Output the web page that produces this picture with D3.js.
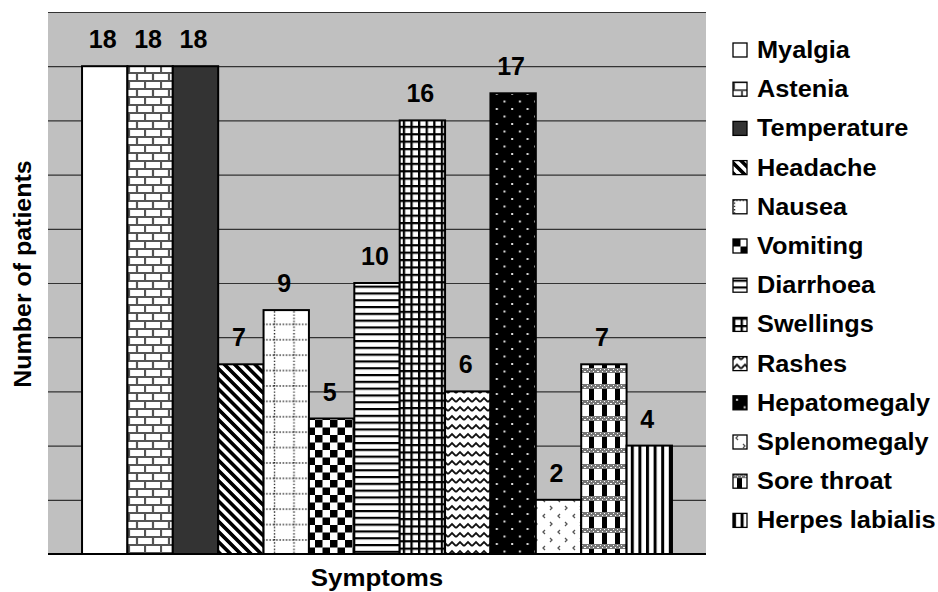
<!DOCTYPE html>
<html>
<head>
<meta charset="utf-8">
<script src="https://cdn.jsdelivr.net/npm/d3@7"></script>
<style>
  html, body { margin: 0; padding: 0; background: #fff; }
  svg { display: block; }
  text { font-family: "Liberation Sans", Arial, sans-serif; font-weight: bold; fill: #000; }
</style>
</head>
<body>
<svg id="chart" width="938" height="592"></svg>
<script>
// ---- data ----
const categories = ["Myalgia", "Astenia", "Temperature", "Headache", "Nausea", "Vomiting",
  "Diarrhoea", "Swellings", "Rashes", "Hepatomegaly", "Splenomegaly", "Sore throat", "Herpes labialis"];
const values = [18, 18, 18, 7, 9, 5, 10, 16, 6, 17, 2, 7, 4];
const yTicks = [0, 2, 4, 6, 8, 10, 12, 14, 16, 18, 20];
const fills = ["solid-white", "brick", "solid-dark", "diag", "dotgrid", "checker",
  "hlines", "grid", "zigzag", "dots", "chevron", "sore", "vlines"];
const yTitle = "Number of patients";
const xTitle = "Symptoms";

// ---- layout ----
const plot = { left: 48, right: 706, top: 12, bottom: 554 };

const svg = d3.select("#chart");
const defs = svg.append("defs");

function pat(id, w, h, extra) {
  const p = defs.append("pattern").attr("id", id).attr("patternUnits", "userSpaceOnUse")
    .attr("width", w).attr("height", h);
  if (extra) extra(p);
  return p;
}
// brick
pat("brick", 16, 16, p => {
  p.append("rect").attr("width", 16).attr("height", 16).attr("fill", "#fff");
  p.append("path").attr("d", "M0,1 H16 M0,9 H16 M1,1 V9 M9,9 V17")
    .attr("stroke", "#555").attr("stroke-width", 2.2).attr("fill", "none");
});
// diagonal stripes
pat("diag", 7.2, 7.2, p => {
  p.attr("patternTransform", "rotate(-45)");
  p.append("rect").attr("width", 7.2).attr("height", 7.2).attr("fill", "#fff");
  p.append("rect").attr("width", 3.6).attr("height", 7.2).attr("fill", "#000");
});
// dotted grid
pat("dotgrid", 19.5, 15.4, p => {
  p.append("rect").attr("width", 19.5).attr("height", 15.4).attr("fill", "#fff");
  p.append("path").attr("d", "M0,1 H19.5 M1.5,0 V15.4")
    .attr("stroke", "#222").attr("stroke-width", 1.4).attr("stroke-dasharray", "1.4,1.8").attr("fill", "none");
});
// checkerboard
pat("checker", 15, 15, p => {
  p.append("rect").attr("width", 15).attr("height", 15).attr("fill", "#fff");
  p.append("rect").attr("width", 7.5).attr("height", 7.5).attr("fill", "#000");
  p.append("rect").attr("x", 7.5).attr("y", 7.5).attr("width", 7.5).attr("height", 7.5).attr("fill", "#000");
});
// horizontal lines
pat("hlines", 10, 6.8, p => {
  p.append("rect").attr("width", 10).attr("height", 6.8).attr("fill", "#fff");
  p.append("rect").attr("width", 10).attr("height", 2.2).attr("fill", "#000");
});
// small grid
pat("grid", 7.6, 7.4, p => {
  p.append("rect").attr("width", 7.6).attr("height", 7.4).attr("fill", "#000");
  p.append("rect").attr("x", 2.3).attr("y", 2.2).attr("width", 5.3).attr("height", 5.2).attr("fill", "#fff");
});
// zigzag
pat("zigzag", 8, 9, p => {
  p.append("rect").attr("width", 8).attr("height", 9).attr("fill", "#fff");
  p.append("path").attr("d", "M0,6 L4,2 L8,6").attr("stroke", "#111").attr("stroke-width", 1.8).attr("fill", "none");
});
// white dots on black
pat("dots", 15.4, 15, p => {
  p.append("rect").attr("width", 15.4).attr("height", 15).attr("fill", "#000");
  p.append("rect").attr("x", 3).attr("y", 3).attr("width", 2).attr("height", 2).attr("fill", "#ddd");
  p.append("rect").attr("x", 10.7).attr("y", 10.5).attr("width", 2).attr("height", 2).attr("fill", "#ddd");
});
// chevrons
pat("chevron", 15, 16, p => {
  p.append("rect").attr("width", 15).attr("height", 16).attr("fill", "#fff");
  p.append("path").attr("d", "M5,2 L3,4 L5,6 M10,10 L12,12 L10,14")
    .attr("stroke", "#555").attr("stroke-width", 1.3).attr("fill", "none");
});
// sore throat
pat("sore", 13, 16, p => {
  p.append("rect").attr("width", 13).attr("height", 16).attr("fill", "#fff");
  p.append("rect").attr("x", 4).attr("y", 5).attr("width", 5).attr("height", 11).attr("fill", "#000");
  p.append("rect").attr("x", 0).attr("y", 0).attr("width", 13).attr("height", 5).attr("fill", "#777");
  for (let i = 0; i < 13; i += 2) {
    p.append("rect").attr("x", i).attr("y", (i / 2) % 2 ? 1 : 3).attr("width", 1).attr("height", 1).attr("fill", "#fff");
  }
});
// vertical lines
pat("vlines", 7.6, 10, p => {
  p.append("rect").attr("width", 7.6).attr("height", 10).attr("fill", "#fff");
  p.append("rect").attr("width", 3).attr("height", 10).attr("fill", "#000");
});

function fillOf(f) {
  if (f === "solid-white") return "#fff";
  if (f === "solid-dark") return "#333";
  return "url(#" + f + ")";
}

// ---- scales ----
const x = d3.scaleBand().domain(categories).range([plot.left, plot.right]).paddingInner(0).paddingOuter(0.75);
const y = d3.scaleLinear().domain([0, 20]).range([plot.bottom, plot.top]);

// plot background
svg.append("rect").attr("x", plot.left).attr("y", plot.top)
  .attr("width", plot.right - plot.left).attr("height", plot.bottom - plot.top).attr("fill", "#c0c0c0");

// gridlines via axis
const yAxis = d3.axisLeft(y).tickValues(yTicks).tickSize(-(plot.right - plot.left)).tickFormat("");
const gAxis = svg.append("g").attr("transform", `translate(${plot.left},0)`).call(yAxis);
gAxis.select(".domain").remove();
gAxis.selectAll(".tick line").attr("stroke", "#333").attr("stroke-width", 1.2);

// bars
svg.append("g").selectAll("rect").data(categories).join("rect")
  .attr("x", d => x(d))
  .attr("y", (d, i) => y(values[i]))
  .attr("width", x.bandwidth())
  .attr("height", (d, i) => y(0) - y(values[i]))
  .attr("fill", (d, i) => fillOf(fills[i]))
  .attr("stroke", "#000").attr("stroke-width", 2);

// baseline
svg.append("line").attr("x1", plot.left).attr("x2", plot.right).attr("y1", y(0)).attr("y2", y(0))
  .attr("stroke", "#000").attr("stroke-width", 2);

// value labels
svg.append("g").selectAll("text").data(categories).join("text")
  .attr("x", d => x(d) + x.bandwidth() / 2 - 2)
  .attr("y", (d, i) => y(values[i]) - 18)
  .attr("text-anchor", "middle").attr("font-size", 25)
  .text((d, i) => values[i]);

// axis titles
svg.append("text").attr("transform", `translate(31,274) rotate(-90) scale(1.04,1)`)
  .attr("text-anchor", "middle").attr("font-size", 24).text(yTitle);
svg.append("text").attr("transform", `translate(${(plot.left + plot.right) / 2},586) scale(1.08,1)`)
  .attr("text-anchor", "middle").attr("font-size", 24).text(xTitle);

// legend
const lg = svg.append("g").attr("transform", "translate(733,58)");
const item = lg.selectAll("g").data(categories).join("g")
  .attr("transform", (d, i) => `translate(0,${i * 39.2})`);
item.append("rect").attr("x", 0).attr("y", -15).attr("width", 14).attr("height", 14)
  .attr("fill", (d, i) => fillOf(fills[i])).attr("stroke", "#000").attr("stroke-width", 1.3);
item.append("text").attr("transform", "translate(24,0) scale(1.055,1)").attr("font-size", 24).text(d => d);
</script>
</body>
</html>
